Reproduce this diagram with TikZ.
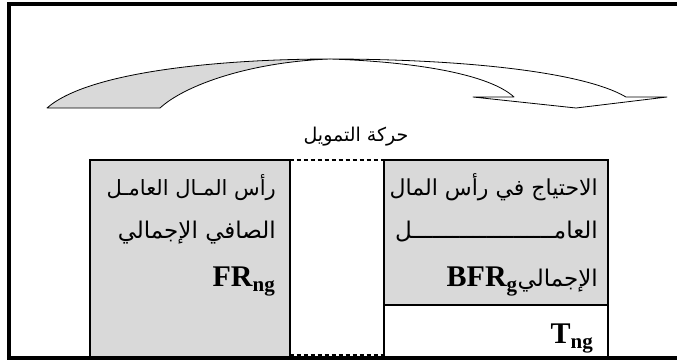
\documentclass[tikz,border=0pt]{standalone}
\usepackage{fontspec}
\setmainfont{Liberation Serif}
\newfontfamily\arabicfont[Script=Arabic]{DejaVu Sans}
\TeXXeTstate=1
\usetikzlibrary{positioning}

\definecolor{boxgray}{RGB}{217,217,217}
\newcommand{\lowsub}[1]{\raisebox{-5pt}{\fontsize{21}{21}\selectfont #1}}

\tikzset{
  panel/.style={draw=black, line width=2pt, fill=boxgray},
  gapline/.style={line width=2pt, dash pattern=on 4pt off 3pt},
  ribbon/.style={draw=black, line width=0.8pt, line join=round},
  artext/.style={anchor=base east, inner sep=0pt, font=\arabicfont\fontsize{23}{23}\selectfont},
  latext/.style={anchor=base east, inner sep=0pt, font=\bfseries\fontsize{30}{30}\selectfont},
}

\begin{document}
\begin{tikzpicture}[x=1pt,y=-1pt]
\useasboundingbox (0,0) rectangle (677,360);

% curved arrow
\filldraw[ribbon, fill=boxgray] (47,108) .. controls (90,70) and (230,59) .. (330,59)
  .. controls (250,62) and (185,85) .. (160,108) -- cycle;
\filldraw[ribbon, fill=white] (330,59) .. controls (450,59) and (580,70) .. (626,97)
  -- (667,97) -- (576,108) -- (473,97) -- (514,97)
  .. controls (490,75) and (420,62) .. (330,59) -- cycle;

\node[artext, anchor=base, font=\arabicfont\fontsize{19}{19}\selectfont] (flow) at (356,141) {\beginR حركة التمويل\endR};

% boxes
\filldraw[panel] (90,159.5) rectangle (289.5,357);
\filldraw[panel] (383.5,159.5) rectangle (607.5,304.5);
\draw[line width=2pt] (383.5,304.5) rectangle (607.5,357);
\draw[gapline] (289.5,159.5) -- (383.5,159.5);
\draw[gapline] (289.5,355) -- (383.5,355);

% frame
\draw[line width=4pt] (677,4) -- (9,4) -- (9,358) -- (677,358);

\node[artext, font=\arabicfont\fontsize{21}{21}\selectfont] (net1) at (276,195) {\beginR رأس المـال العامـل\endR};
\node[artext] (net2) at (276,238) {\beginR الصافي الإجمالي\endR};
\node[latext] (fr) at (275,286) {FR\lowsub{ng}};

\node[artext, font=\arabicfont\fontsize{22}{22}\selectfont] (need1) at (598,195) {\beginR الاحتياج في رأس المال\endR};
\node[artext] (need2) at (598,238) {\beginR العامـــــــــــــــــــــل\endR};
\node[artext] (need3) at (598,286) {\beginR الإجمالي\endR};
\node[latext, left=0pt of need3.base west, anchor=base east] (bfr) {BFR\lowsub{g}};
\node[latext] (tng) at (593,343) {T\lowsub{ng}};

\end{tikzpicture}
\end{document}
